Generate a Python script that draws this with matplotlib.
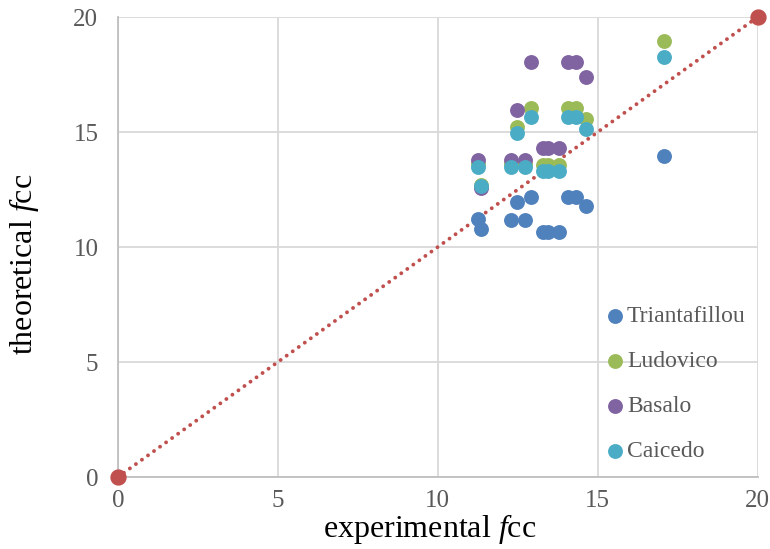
import numpy as np
import matplotlib.pyplot as plt

tri_x = [11.26, 11.34, 12.49, 12.90, 12.30, 12.72, 13.29, 13.45, 13.79, 14.07, 14.31, 14.63, 17.07]
tri_y = [11.20, 10.80, 11.97, 12.16, 11.17, 11.17, 10.64, 10.64, 10.64, 12.16, 12.16, 11.78, 13.97]

lud_x = [11.26, 11.34, 12.30, 12.49, 12.72, 12.90, 13.29, 13.45, 13.79, 14.07, 14.31, 14.63, 17.07]
lud_y = [13.60, 12.70, 13.60, 15.23, 13.60, 16.06, 13.56, 13.56, 13.56, 16.06, 16.06, 15.55, 18.97]

bas_x = [11.26, 11.34, 12.30, 12.49, 12.72, 12.90, 13.29, 13.45, 13.79, 14.07, 14.31, 14.63]
bas_y = [13.78, 12.55, 13.78, 15.96, 13.78, 18.06, 14.29, 14.29, 14.29, 18.06, 18.06, 17.40]

cai_x = [11.26, 11.34, 12.30, 12.49, 12.72, 12.90, 13.29, 13.45, 13.79, 14.07, 14.31, 14.63, 17.07]
cai_y = [13.49, 12.65, 13.49, 14.94, 13.49, 15.64, 13.32, 13.32, 13.32, 15.64, 15.64, 15.13, 18.28]

line_x = [0, 20]
line_y = [0, 20]

plt.rcParams['font.family'] = ['Liberation Serif', 'DejaVu Serif']
plt.rcParams['mathtext.fontset'] = 'custom'
plt.rcParams['mathtext.rm'] = 'Liberation Serif'
plt.rcParams['mathtext.it'] = 'Liberation Serif:italic'

fig = plt.figure(figsize=(7.7, 5.49), dpi=100)
ax = fig.add_axes([0.153, 0.131, 0.831, 0.838])

ax.plot(line_x, line_y, linestyle=(0, (0.01, 1.9)), color='#C0504D', lw=2.8,
        dash_capstyle='round', zorder=2)
ax.scatter(line_x, line_y, s=115, color='#C0504D', zorder=4, clip_on=False)

series = [
    ('Triantafillou', tri_x, tri_y, '#4F81BD'),
    ('Ludovico', lud_x, lud_y, '#9BBB59'),
    ('Basalo', bas_x, bas_y, '#8064A2'),
    ('Caicedo', cai_x, cai_y, '#4BACC6'),
]
for name, xs, ys, c in series:
    ax.scatter(xs, ys, s=115, color=c, label=name, zorder=3, linewidths=0)

ax.set_xlim(0, 20)
ax.set_ylim(0, 20)
ax.set_xticks(np.arange(0, 21, 5))
ax.set_yticks(np.arange(0, 21, 5))
ax.grid(True, color='#D9D9D9', lw=1.3, zorder=0)
ax.set_axisbelow(True)
for sp in ['top', 'right']:
    ax.spines[sp].set_visible(False)
for sp in ['left', 'bottom']:
    ax.spines[sp].set_color('#BFBFBF')
    ax.spines[sp].set_linewidth(1.3)
ax.tick_params(length=0, labelsize=18, labelcolor='#595959')
ax.tick_params(axis='y', pad=14)
ax.tick_params(axis='x', pad=9)

ax.set_xlabel('experimental $\\mathit{f}$cc', fontsize=23)
ax.set_ylabel('theoretical $\\mathit{f}$cc', fontsize=23)
ax.xaxis.set_label_coords(0.4875, -0.075)
ax.yaxis.set_label_coords(-0.12, 0.463)

leg = ax.legend(loc='center left', frameon=False, fontsize=17, labelspacing=1.0,
                handletextpad=-0.5, markerscale=1.0, borderpad=0,
                bbox_to_anchor=(0.722, 0.203))
for t in leg.get_texts():
    t.set_color('#595959')

fig.savefig('out.png', dpi=100)
